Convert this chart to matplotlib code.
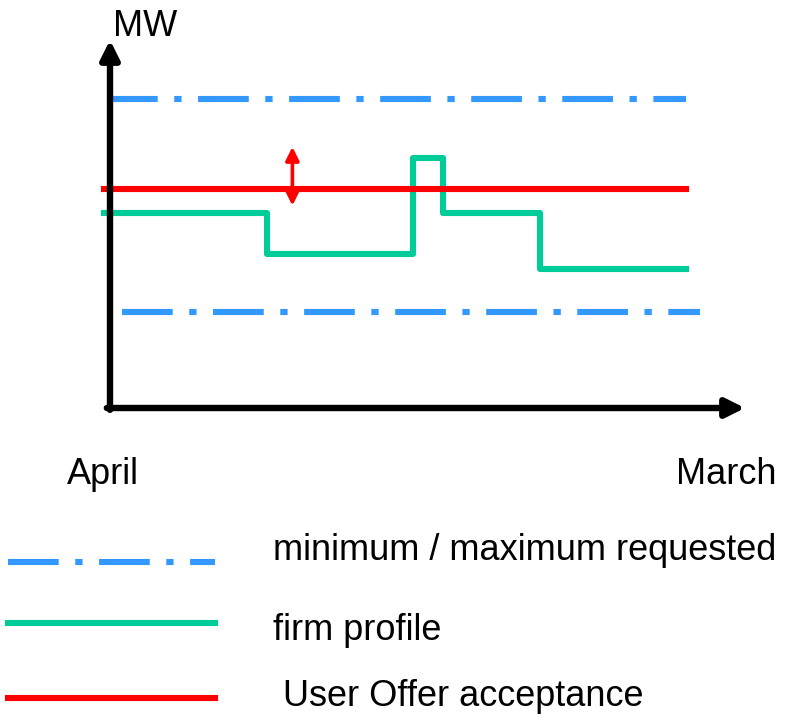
import matplotlib.pyplot as plt
from matplotlib.lines import Line2D

plt.rcParams['font.family'] = ['Liberation Sans', 'DejaVu Sans']

# data (x in months from April, y in MW, arbitrary scale)
max_x = [-0.06, 12.0]
max_y = [100, 100]
min_x = [0.25, 12.3]
min_y = [31, 31]
offer_x = [-0.125, 12.0]
offer_y = [71, 71]
firm_x = [-0.125, 3.27, 6.31, 6.94, 8.96, 12.0]
firm_y = [63, 50, 81, 63, 45, 45]
arrow_x = 3.8
arrow_y = [65.5, 84.5]

legend_labels = ['minimum / maximum requested', 'firm profile', ' User Offer acceptance']

BLUE = '#3399ff'
GREEN = '#00cc99'
RED = '#ff0000'

W, H = 794, 720
fig = plt.figure(figsize=(W / 100, H / 100), dpi=100)

def px(x, y):
    return x / W, 1 - y / H

ax = fig.add_axes([110 / W, (H - 408) / H, (745 - 110) / W, (408 - 40) / H])
ax.set_xlim(0, 13.23)
ax.set_ylim(0, 119.1)
ax.axis('off')

dashdot = (0, (8.3, 2.7, 1.2, 2.7))
lw = 4.4
ax.plot(max_x, max_y, color=BLUE, lw=lw, linestyle=dashdot, dash_capstyle='butt', clip_on=False)
ax.plot(min_x, min_y, color=BLUE, lw=lw, linestyle=dashdot, dash_capstyle='butt', clip_on=False)
ax.plot(offer_x, offer_y, color=RED, lw=lw, clip_on=False, zorder=4)
ax.step(firm_x, firm_y, where='post', color=GREEN, lw=lw, clip_on=False, zorder=3)

ax.annotate('', xy=(arrow_x, arrow_y[1]), xytext=(arrow_x, arrow_y[0]),
            arrowprops=dict(arrowstyle='<|-|>', color=RED, lw=2.6,
                            mutation_scale=20, shrinkA=0, shrinkB=0), zorder=5)

# axes arrows
axis_props = dict(arrowstyle='-|>', color='black', lw=4.6, mutation_scale=28,
                  shrinkA=0, shrinkB=0)
ax.annotate('', xy=(0, 1), xytext=(0, -0.005), xycoords='axes fraction',
            arrowprops=axis_props, zorder=6)
ax.annotate('', xy=(1, 0), xytext=(-0.005, 0), xycoords='axes fraction',
            arrowprops=axis_props, zorder=6)

fs = 26
fig.text(*px(113, 27), 'MW', fontsize=fs, ha='left', va='center')
fig.text(*px(67, 474), 'April', fontsize=fs, ha='left', va='center')
fig.text(*px(676, 474), 'March', fontsize=fs, ha='left', va='center')

# legend drawn by hand
lax = fig.add_axes([0, 0, 1, 1])
lax.set_xlim(0, W)
lax.set_ylim(H, 0)
lax.axis('off')
handles = [
    dict(color=BLUE, linestyle=dashdot, dash_capstyle='butt'),
    dict(color=GREEN),
    dict(color=RED),
]
rows = [562, 623, 698]
text_rows = [551, 630, 696]
for lab, sty, ry, ty in zip(legend_labels, handles, rows, text_rows):
    lax.add_line(Line2D([8, 215], [ry, ry], lw=lw, **sty))
    lax.text(273, ty, lab, fontsize=fs, ha='left', va='center')

fig.savefig('out.png', dpi=100)
